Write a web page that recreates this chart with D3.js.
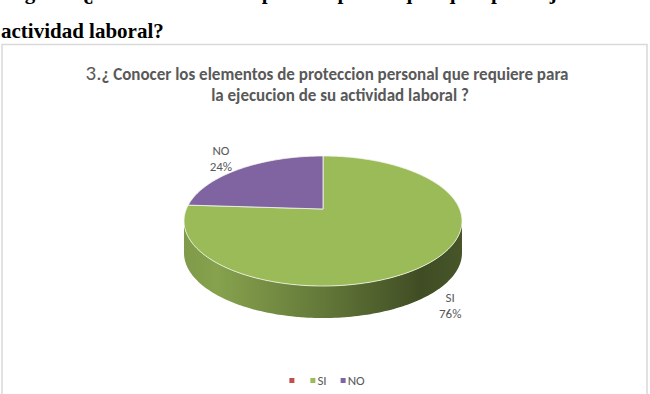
<!DOCTYPE html>
<html>
<head>
<meta charset="utf-8">
<script src="https://cdn.jsdelivr.net/npm/d3@7"></script>
<style>
  body { margin: 0; background: #fff; }
  svg { display: block; }
</style>
</head>
<body>
<div id="chart"></div>
<script>
// values
var categories = ["", "SI", "NO"];
var values = [0, 76, 24];
var colors = ["#C0504D", "#9BBB59", "#8064A2"];

var titleNumber = "3.";
var titleLines = [
  "¿ Conocer los elementos de proteccion personal que requiere para",
  "la ejecucion de su actividad laboral ?"
];
var pageLines = [
  "Pregunta 3. ¿Conoce los elementos de protección personal que requiere para la ejecución de su",
  "actividad laboral?"
];

var width = 650, height = 394;
var chartFont = "Calibri, Carlito, Lato, 'Open Sans', sans-serif";

var svg = d3.select("#chart").append("svg")
  .attr("width", width)
  .attr("height", height);

// text of the document page above the chart (first line is cut off by the crop)
svg.append("text")
  .attr("x", 0).attr("y", -1)
  .attr("textLength", 648).attr("lengthAdjust", "spacing")
  .style("font-family", "'Liberation Serif', 'Times New Roman', serif")
  .style("font-weight", "bold").style("font-size", "21px")
  .text(pageLines[0]);
svg.append("text")
  .attr("x", 1).attr("y", 38)
  .style("font-family", "'Liberation Serif', 'Times New Roman', serif")
  .style("font-weight", "bold").style("font-size", "21px")
  .text(pageLines[1]);

// chart frame
svg.append("rect")
  .attr("x", 2).attr("y", 44.5)
  .attr("width", 645).attr("height", 370)
  .attr("fill", "#fff")
  .attr("stroke", "#d9d9d9")
  .attr("stroke-width", 1.5);

// title
var title = svg.append("text")
  .attr("x", 327).attr("y", 80)
  .attr("text-anchor", "middle")
  .style("font-family", chartFont)
  .style("fill", "#595959");
title.append("tspan")
  .style("font-size", "21px")
  .text(titleNumber);
title.append("tspan")
  .style("font-size", "17px").style("font-weight", "bold")
  .text(titleLines[0]);
svg.append("text")
  .attr("x", 340).attr("y", 101)
  .attr("text-anchor", "middle")
  .style("font-family", chartFont)
  .style("font-size", "17px").style("font-weight", "bold")
  .style("fill", "#595959")
  .text(titleLines[1]);

// 3D pie in perspective
var cx = 323, cy = 209, rx = 136.6, ry = 62.8, persp = 0.1846, depth = 32;

function proj(a, k, dz) {
  var u = k * Math.sin(a), v = k * Math.cos(a), w = 1 + persp * v;
  return [cx + rx * u / w, cy - ry * v / w + (dz || 0)];
}

function arcPoints(a0, a1, k, dz) {
  var n = Math.max(2, Math.ceil((a1 - a0) / 0.02));
  return d3.range(n + 1).map(function (i) {
    return proj(a0 + (a1 - a0) * i / n, k, dz);
  });
}

var pieData = categories.map(function (c, i) {
  return { name: c, value: values[i], color: colors[i] };
});
var total = d3.sum(values);
var pct = d3.format(".0%");

var arcs = d3.pie().sort(null).value(function (d) { return d.value; })(pieData);

var frontMin = Math.acos(-persp), frontMax = 2 * Math.PI - frontMin;

var defs = svg.append("defs");
arcs.forEach(function (d, i) {
  var base = d3.color(d.data.color);
  var g = defs.append("linearGradient")
    .attr("id", "side" + i)
    .attr("gradientUnits", "userSpaceOnUse")
    .attr("x1", cx - rx * 1.02).attr("x2", cx + rx * 1.02)
    .attr("y1", 0).attr("y2", 0);
  [[0, 0.55], [0.12, 0.4], [0.5, 1.25], [0.85, 2.5], [1, 2.2]].forEach(function (s) {
    g.append("stop").attr("offset", s[0]).attr("stop-color", base.darker(s[1]).formatHex());
  });
});

var pie = svg.append("g");

// outer walls (front part only)
pie.selectAll(".side")
  .data(arcs.filter(function (d) {
    return d.value > 0 && Math.min(d.endAngle, frontMax) > Math.max(d.startAngle, frontMin);
  }))
  .join("path")
  .attr("class", "side")
  .attr("fill", function (d) { return "url(#side" + d.index + ")"; })
  .attr("d", function (d) {
    var a0 = Math.max(d.startAngle, frontMin), a1 = Math.min(d.endAngle, frontMax);
    var pts = arcPoints(a0, a1, 1, 0).concat(arcPoints(a0, a1, 1, depth).reverse());
    return d3.line()(pts) + "Z";
  });

// top faces
pie.selectAll(".top")
  .data(arcs.filter(function (d) { return d.value > 0; }))
  .join("path")
  .attr("class", "top")
  .attr("fill", function (d) { return d.data.color; })
  .attr("stroke", "#f4f7ee")
  .attr("stroke-width", 0.8)
  .attr("stroke-linejoin", "round")
  .attr("d", function (d) {
    var pts = [[cx, cy]].concat(arcPoints(d.startAngle, d.endAngle, 1, 0));
    return d3.line()(pts) + "Z";
  });

// data labels, outside the pie
pie.selectAll(".lbl")
  .data(arcs.filter(function (d) { return d.value > 0; }))
  .join("text")
  .attr("class", "lbl")
  .attr("text-anchor", "middle")
  .style("font-family", chartFont)
  .style("font-size", "13px")
  .style("fill", "#595959")
  .each(function (d) {
    var mid = (d.startAngle + d.endAngle) / 2;
    var front = Math.cos(mid) < 0;
    var p = proj(mid, front ? 1.15 : 1.28, front ? depth + 3 : 0);
    var t = d3.select(this);
    t.append("tspan").attr("x", p[0]).attr("y", p[1] - 4).text(d.data.name);
    t.append("tspan").attr("x", p[0]).attr("y", p[1] + 12).text(pct(d.value / total));
  });

// legend
var legend = svg.append("g");
var lx = 0;
pieData.forEach(function (d) {
  var item = legend.append("g").attr("transform", "translate(" + lx + ",0)");
  item.append("rect")
    .attr("x", 0).attr("y", -2.5)
    .attr("width", 5).attr("height", 5)
    .attr("fill", d.color);
  var t = item.append("text")
    .attr("x", 7).attr("y", 4.5)
    .style("font-family", chartFont)
    .style("font-size", "13px")
    .style("fill", "#595959")
    .text(d.name);
  lx += 7 + t.node().getComputedTextLength() + 14;
});
lx -= 14;
legend.attr("transform", "translate(" + (327 - lx / 2) + ",380.5)");
</script>
</body>
</html>
